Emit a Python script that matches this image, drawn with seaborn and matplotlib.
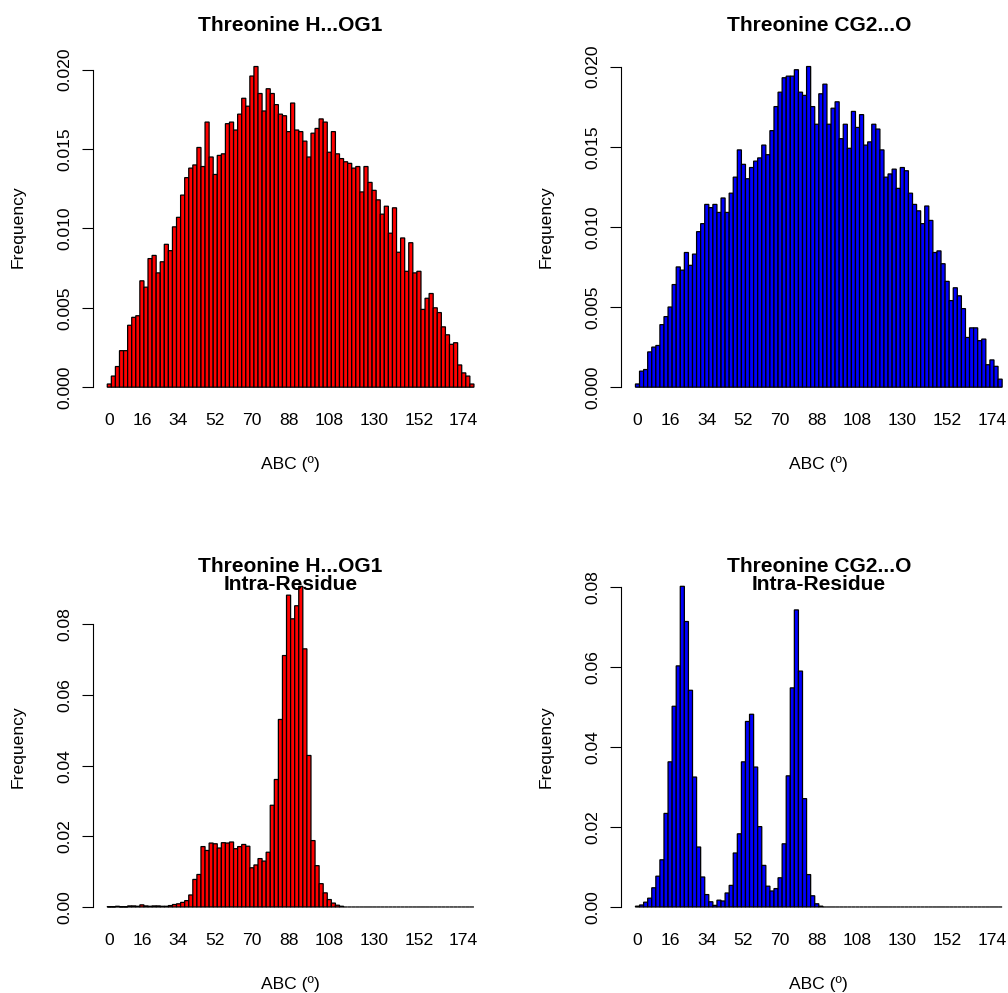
import matplotlib
matplotlib.use("Agg")
import matplotlib.pyplot as plt
import seaborn as sns
import numpy as np

sns.set_style("white")
plt.rcParams["font.family"] = ["Liberation Sans", "DejaVu Sans"]
plt.rcParams["text.color"] = "black"
plt.rcParams["axes.labelcolor"] = "black"
plt.rcParams["xtick.color"] = "black"
plt.rcParams["ytick.color"] = "black"

# Angle bins (2-degree classes) and the subset of bin labels shown on the x axis
angle_bins = list(range(0, 180, 2))
shown_labels = [0, 16, 34, 52, 70, 88, 108, 130, 152, 174]

# Relative frequency per bin: all H...OG1 contacts
hog1_all = [
    0.0002, 0.0007, 0.0013, 0.0023, 0.0023, 0.0039, 0.0044, 0.0045, 0.0067, 0.0063,
    0.0081, 0.0083, 0.0072, 0.0079, 0.0090, 0.0086, 0.0101, 0.0107, 0.0121, 0.0132,
    0.0138, 0.0140, 0.0151, 0.0139, 0.0167, 0.0145, 0.0134, 0.0146, 0.0147, 0.0166,
    0.0167, 0.0162, 0.0172, 0.0182, 0.0177, 0.0196, 0.0202, 0.0185, 0.0174, 0.0188,
    0.0185, 0.0178, 0.0172, 0.0171, 0.0161, 0.0179, 0.0162, 0.0161, 0.0155, 0.0145,
    0.0160, 0.0163, 0.0169, 0.0167, 0.0148, 0.0161, 0.0147, 0.0144, 0.0142, 0.0141,
    0.0138, 0.0139, 0.0123, 0.0139, 0.0129, 0.0124, 0.0118, 0.0109, 0.0114, 0.0097,
    0.0113, 0.0085, 0.0094, 0.0073, 0.0091, 0.0072, 0.0073, 0.0049, 0.0056, 0.0059,
    0.0050, 0.0047, 0.0038, 0.0033, 0.0027, 0.0028, 0.0014, 0.0009, 0.0007, 0.0002,
]

# Relative frequency per bin: all CG2...O contacts
cg2o_all = [
    0.0002, 0.0010, 0.0011, 0.0022, 0.0025, 0.0026, 0.0039, 0.0044, 0.0050, 0.0064,
    0.0075, 0.0073, 0.0084, 0.0076, 0.0083, 0.0097, 0.0102, 0.0114, 0.0112, 0.0114,
    0.0109, 0.0118, 0.0109, 0.0121, 0.0131, 0.0148, 0.0139, 0.0130, 0.0137, 0.0141,
    0.0143, 0.0151, 0.0145, 0.0160, 0.0175, 0.0184, 0.0193, 0.0194, 0.0194, 0.0198,
    0.0184, 0.0182, 0.0200, 0.0175, 0.0164, 0.0183, 0.0189, 0.0164, 0.0174, 0.0178,
    0.0155, 0.0164, 0.0149, 0.0172, 0.0162, 0.0170, 0.0151, 0.0153, 0.0164, 0.0161,
    0.0148, 0.0131, 0.0133, 0.0136, 0.0124, 0.0137, 0.0135, 0.0121, 0.0114, 0.0110,
    0.0102, 0.0113, 0.0104, 0.0084, 0.0085, 0.0077, 0.0066, 0.0054, 0.0062, 0.0057,
    0.0049, 0.0031, 0.0037, 0.0037, 0.0029, 0.0030, 0.0014, 0.0017, 0.0013, 0.0005,
]

# Relative frequency per bin: intra-residue H...OG1 contacts
hog1_intra = [
    0.0001, 0.0001, 0.0002, 0.0001, 0.0001, 0.0003, 0.0003, 0.0002, 0.0006, 0.0003,
    0.0002, 0.0003, 0.0003, 0.0002, 0.0002, 0.0004, 0.0007, 0.0009, 0.0013, 0.0018,
    0.0034, 0.0078, 0.0092, 0.0171, 0.0160, 0.0181, 0.0179, 0.0167, 0.0182, 0.0181,
    0.0184, 0.0165, 0.0171, 0.0177, 0.0172, 0.0111, 0.0119, 0.0137, 0.0130, 0.0155,
    0.0288, 0.0361, 0.0531, 0.0712, 0.0883, 0.0816, 0.0853, 0.0908, 0.0731, 0.0429,
    0.0188, 0.0117, 0.0066, 0.0040, 0.0021, 0.0011, 0.0005, 0.0002, 0.0000, 0.0000,
    0.0000, 0.0000, 0.0000, 0.0000, 0.0000, 0.0000, 0.0000, 0.0000, 0.0000, 0.0000,
    0.0000, 0.0000, 0.0000, 0.0000, 0.0000, 0.0000, 0.0000, 0.0000, 0.0000, 0.0000,
    0.0000, 0.0000, 0.0000, 0.0000, 0.0000, 0.0000, 0.0000, 0.0000, 0.0000, 0.0000,
]

# Relative frequency per bin: intra-residue CG2...O contacts
cg2o_intra = [
    0.0002, 0.0005, 0.0012, 0.0022, 0.0048, 0.0077, 0.0118, 0.0234, 0.0363, 0.0502,
    0.0603, 0.0802, 0.0714, 0.0542, 0.0325, 0.0150, 0.0075, 0.0031, 0.0013, 0.0004,
    0.0017, 0.0015, 0.0035, 0.0054, 0.0135, 0.0183, 0.0363, 0.0464, 0.0482, 0.0350,
    0.0201, 0.0104, 0.0052, 0.0040, 0.0046, 0.0073, 0.0158, 0.0328, 0.0548, 0.0743,
    0.0590, 0.0271, 0.0081, 0.0028, 0.0008, 0.0002, 0.0000, 0.0000, 0.0000, 0.0000,
    0.0000, 0.0000, 0.0000, 0.0000, 0.0000, 0.0000, 0.0000, 0.0000, 0.0000, 0.0000,
    0.0000, 0.0000, 0.0000, 0.0000, 0.0000, 0.0000, 0.0000, 0.0000, 0.0000, 0.0000,
    0.0000, 0.0000, 0.0000, 0.0000, 0.0000, 0.0000, 0.0000, 0.0000, 0.0000, 0.0000,
    0.0000, 0.0000, 0.0000, 0.0000, 0.0000, 0.0000, 0.0000, 0.0000, 0.0000, 0.0000,
]

top_yticks = [0.0, 0.005, 0.010, 0.015, 0.020]
bottom_yticks = [0.0, 0.02, 0.04, 0.06, 0.08]

panels = [
    (hog1_all, "red", "Threonine H...OG1", top_yticks, "%.3f"),
    (cg2o_all, "blue", "Threonine CG2...O", top_yticks, "%.3f"),
    (hog1_intra, "red", "Threonine H...OG1\nIntra-Residue", bottom_yticks, "%.2f"),
    (cg2o_intra, "blue", "Threonine CG2...O\nIntra-Residue", bottom_yticks, "%.2f"),
]

W, H = 1008, 993
fig = plt.figure(figsize=(W / 100, H / 100), dpi=100)

# plot regions in pixels: (left, top, width, height)
regions = [
    (92.6, 53.7, 396.0, 346.3),
    (620.8, 53.7, 396.0, 346.3),
    (92.6, 573.5, 396.0, 346.3),
    (620.8, 573.5, 396.0, 346.3),
]

tick_fs = 12.6
title_fs = 15.1

for (vals, colour, title, yticks, fmt), (px, py, pw, ph) in zip(panels, regions):
    ax = fig.add_axes([px / W, 1 - (py + ph) / H, pw / W, ph / H])
    sns.barplot(x=angle_bins, y=vals, color=colour, saturation=1, width=1,
                edgecolor="black", linewidth=0.9, errorbar=None, ax=ax)
    for patch in ax.patches:
        patch.set_snap(False)

    n = len(angle_bins)
    ext = 0.04 * n
    ax.set_xlim(-0.5 - ext, n - 0.5 + ext)
    ymax = max(vals)
    ax.set_ylim(-0.04 * ymax, 1.04 * ymax)

    ax.set_xticks([angle_bins.index(v) for v in shown_labels])
    ax.set_xticklabels([str(v) for v in shown_labels], fontsize=tick_fs)
    ax.tick_params(axis="x", length=0, pad=9.5)

    ax.set_yticks(yticks)
    ax.set_yticklabels([fmt % v for v in yticks], fontsize=tick_fs,
                       rotation=90, va="center")
    ax.tick_params(axis="y", length=7.7, width=0.8, pad=7, left=True,
                   direction="out", color="black")

    for side in ("top", "right", "bottom"):
        ax.spines[side].set_visible(False)
    ax.spines["left"].set_bounds(yticks[0], yticks[-1])
    ax.spines["left"].set_linewidth(0.8)
    ax.spines["left"].set_color("black")

    ax.set_xlabel("")
    ax.set_ylabel("")
    ax.text(0.5, -64 / ph, "ABC (º)", transform=ax.transAxes,
            ha="center", va="center", fontsize=tick_fs)
    ylab_x = 18.3 if px < 500 else 546.5
    ax.text((ylab_x - px) / pw, 0.5, "Frequency", transform=ax.transAxes,
            rotation=90, ha="center", va="center", fontsize=tick_fs)

    if "\n" in title:
        ax.text(0.5, 1 - 2 / ph, title, transform=ax.transAxes, ha="center",
                va="center", fontsize=title_fs, fontweight="bold", linespacing=0.92)
    else:
        ax.text(0.5, 1 + 23 / ph, title, transform=ax.transAxes, ha="center",
                va="baseline", fontsize=title_fs, fontweight="bold")

fig.savefig("out.png", dpi=100, facecolor="white")
